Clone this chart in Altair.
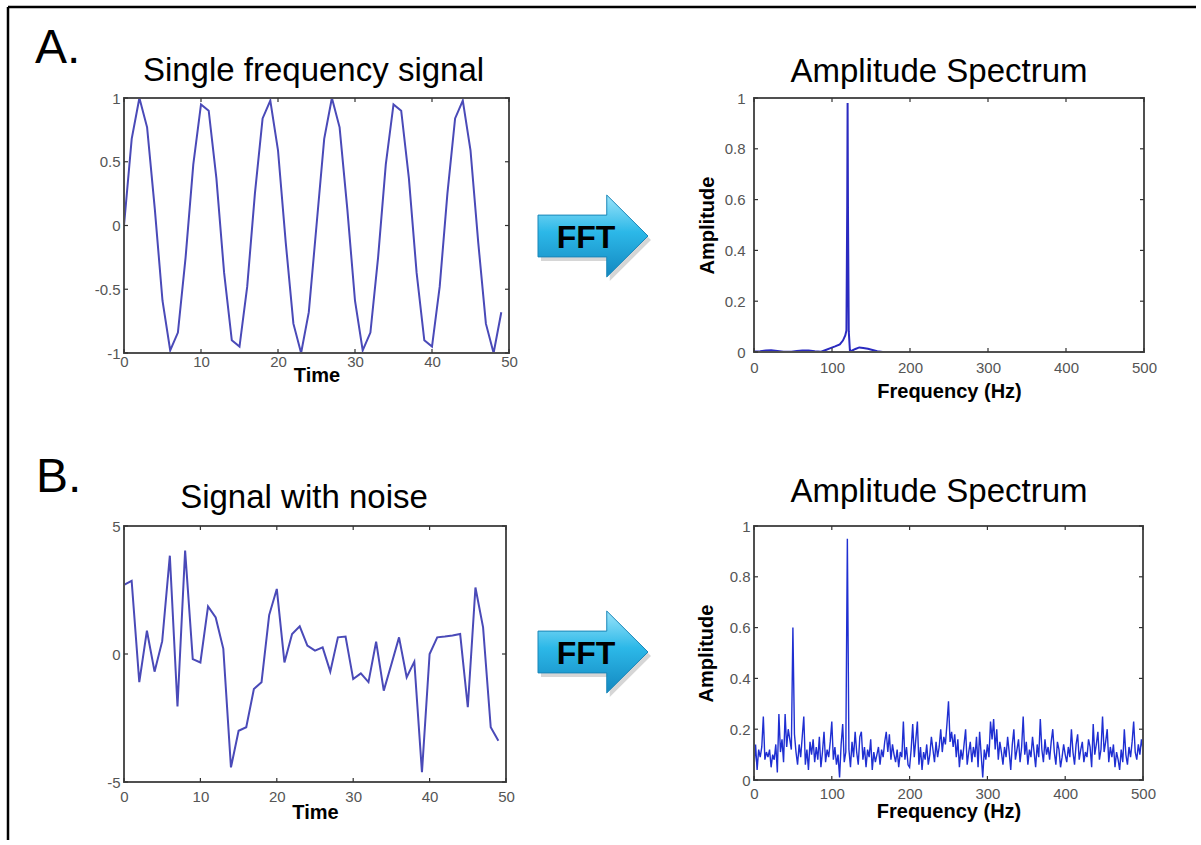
import altair as alt
import pandas as pd

FONT = "Liberation Sans"

# ---------------- data ----------------
time_a = list(range(50))
signal_a = [0.00, 0.68, 1.00, 0.77, 0.13, -0.59, -0.98, -0.84, -0.25, 0.48,
            0.95, 0.90, 0.37, -0.37, -0.90, -0.95, -0.48, 0.25, 0.84, 0.98,
            0.59, -0.13, -0.77, -1.00, -0.68, 0.00, 0.68, 1.00, 0.77, 0.13,
            -0.59, -0.98, -0.84, -0.25, 0.48, 0.95, 0.90, 0.37, -0.37, -0.90,
            -0.95, -0.48, 0.25, 0.84, 0.98, 0.59, -0.13, -0.77, -1.00, -0.68]

time_b = list(range(50))
signal_b = [2.70, 2.86, -1.10, 0.91, -0.69, 0.50, 3.84, -2.05, 4.04, -0.20,
            -0.33, 1.86, 1.43, 0.20, -4.43, -3.00, -2.86, -1.37, -1.10, 1.52,
            2.54, -0.33, 0.78, 1.08, 0.33, 0.13, 0.26, -0.69, 0.65, 0.68,
            -0.98, -0.76, -1.10, 0.48, -1.43, -0.40, 0.65, -0.91, -0.30, -4.62,
            0.00, 0.65, 0.68, 0.72, 0.78, -2.08, 2.60, 1.04, -2.86, -3.39]

spec_a_freq = [0, 8, 15, 22, 30, 38, 48, 55, 62, 70, 78, 86, 92, 98, 104, 110,
               114, 117, 118.5, 119.5, 120, 120.5, 121.5, 123, 126, 130, 135,
               140, 146, 152, 158, 165, 200, 300, 400, 500]
spec_a_amp = [0.002, 0.003, 0.006, 0.007, 0.004, 0.001, 0.001, 0.004, 0.006,
              0.006, 0.003, 0.001, 0.008, 0.015, 0.022, 0.030, 0.045, 0.065,
              0.085, 0.570, 0.980, 0.550, 0.080, 0.004, 0.006, 0.012, 0.018,
              0.016, 0.013, 0.008, 0.003, 0.000, 0.000, 0.000, 0.000, 0.000]

spec_b_freq = list(range(0, 501, 2))
spec_b_amp = [
    0.05, 0.14, 0.04, 0.12, 0.09, 0.13, 0.25, 0.08, 0.11, 0.09,
    0.12, 0.05, 0.10, 0.08, 0.14, 0.03, 0.26, 0.11, 0.16, 0.07,
    0.26, 0.13, 0.20, 0.16, 0.12, 0.60, 0.18, 0.11, 0.06, 0.14,
    0.09, 0.17, 0.25, 0.06, 0.12, 0.04, 0.15, 0.10, 0.16, 0.07,
    0.13, 0.08, 0.17, 0.05, 0.11, 0.19, 0.07, 0.12, 0.09, 0.15,
    0.23, 0.08, 0.13, 0.06, 0.10, 0.01, 0.14, 0.22, 0.07, 0.11,
    0.95, 0.12, 0.05, 0.15, 0.09, 0.19, 0.11, 0.06, 0.17, 0.19,
    0.08, 0.13, 0.05, 0.12, 0.09, 0.16, 0.04, 0.11, 0.07, 0.10,
    0.13, 0.06, 0.12, 0.09, 0.15, 0.19, 0.11, 0.18, 0.08, 0.14,
    0.10, 0.07, 0.12, 0.05, 0.11, 0.09, 0.23, 0.08, 0.13, 0.06,
    0.05, 0.12, 0.22, 0.09, 0.16, 0.23, 0.06, 0.13, 0.04, 0.11,
    0.08, 0.14, 0.06, 0.10, 0.17, 0.12, 0.07, 0.15, 0.09, 0.13,
    0.20, 0.11, 0.17, 0.14, 0.22, 0.31, 0.15, 0.19, 0.13, 0.18,
    0.09, 0.16, 0.05, 0.12, 0.08, 0.14, 0.20, 0.06, 0.11, 0.15,
    0.07, 0.13, 0.09, 0.17, 0.05, 0.19, 0.10, 0.01, 0.12, 0.08,
    0.14, 0.09, 0.23, 0.16, 0.24, 0.12, 0.20, 0.08, 0.15, 0.11,
    0.06, 0.13, 0.09, 0.17, 0.11, 0.04, 0.14, 0.20, 0.08, 0.12,
    0.16, 0.07, 0.13, 0.25, 0.10, 0.15, 0.06, 0.12, 0.09, 0.17,
    0.11, 0.05, 0.14, 0.09, 0.24, 0.12, 0.07, 0.16, 0.10, 0.13,
    0.08, 0.15, 0.20, 0.11, 0.06, 0.15, 0.12, 0.05, 0.09, 0.14,
    0.10, 0.07, 0.13, 0.09, 0.20, 0.11, 0.06, 0.14, 0.18, 0.08,
    0.12, 0.15, 0.07, 0.11, 0.09, 0.16, 0.13, 0.05, 0.22, 0.10,
    0.14, 0.19, 0.08, 0.12, 0.25, 0.11, 0.15, 0.20, 0.07, 0.13,
    0.09, 0.14, 0.05, 0.11, 0.08, 0.04, 0.12, 0.07, 0.20, 0.10,
    0.06, 0.13, 0.09, 0.15, 0.23, 0.11, 0.08, 0.14, 0.10, 0.16,
    0.12]

ticks_time = [0, 10, 20, 30, 40, 50]
ticks_sig_a = [-1, -0.5, 0, 0.5, 1]
ticks_sig_b = [-5, 0, 5]
ticks_freq = [0, 100, 200, 300, 400, 500]
ticks_amp = [0, 0.2, 0.4, 0.6, 0.8, 1]

titles = ["Single frequency signal", "Amplitude Spectrum", "Signal with noise", "Amplitude Spectrum"]

# ---------------- helpers ----------------
ONE = alt.Data(values=[{"k": 0}])
ARROW = "M -1 -0.38 L 0.25 -0.38 L 0.25 -0.745 L 1 0 L 0.25 0.745 L 0.25 0.38 L -1 0.38 Z"
GRAD = alt.LinearGradient(
    gradient="linear",
    stops=[alt.GradientStop(offset=0, color="#9be4fa"),
           alt.GradientStop(offset=0.45, color="#2cb8e8"),
           alt.GradientStop(offset=1, color="#1488c0")],
    x1=0, x2=0, y1=0, y2=1)


def axis(values, title, lp, tp):
    return alt.Axis(values=values, title=title, labelExpr="'' + datum.value",
                    domain=False, ticks=False, grid=False, labelFlush=False,
                    labelOverlap=False, labelPadding=lp, titlePadding=tp,
                    labelFont=FONT, labelFontSize=15, labelColor="#555555",
                    titleFont=FONT, titleFontSize=20, titleFontWeight="bold",
                    titleColor="black")


def txt(s, x, y, size, weight="normal", align="center"):
    return alt.Chart(ONE).mark_text(
        text=s, font=FONT, fontSize=size, fontWeight=weight, align=align,
        baseline="alphabetic", color="black").encode(x=alt.value(x), y=alt.value(y))


def arrow(cx, cy):
    shadow = alt.Chart(ONE).mark_point(
        shape=ARROW, size=12100, filled=True, fill="#777777", opacity=0.3,
        strokeWidth=0).encode(x=alt.value(cx + 3), y=alt.value(cy + 4))
    body = alt.Chart(ONE).mark_point(
        shape=ARROW, size=12100, filled=True, fill=GRAD, stroke="#1a86b8",
        strokeWidth=1, opacity=1).encode(x=alt.value(cx), y=alt.value(cy))
    return [shadow, body, txt("FFT", cx - 7, cy + 11.5, 32, "bold")]


def panel(df, xf, yf, xdom, ydom, xt, yt, w, h, color, sw, xaxis, yaxis, decor):
    xs = alt.Scale(domain=xdom, nice=False, zero=False)
    ys = alt.Scale(domain=ydom, nice=False, zero=False)
    line = alt.Chart(df).mark_line(color=color, strokeWidth=sw).encode(
        x=alt.X(f"{xf}:Q", scale=xs, axis=xaxis),
        y=alt.Y(f"{yf}:Q", scale=ys, axis=yaxis))
    frame = alt.Chart(ONE).mark_rect(
        fillOpacity=0, stroke="#505050", strokeWidth=2).encode(
        x=alt.value(0), x2=alt.value(w), y=alt.value(0), y2=alt.value(h))
    xtd = pd.DataFrame({"xt": xt})
    ytd = pd.DataFrame({"yt": yt})
    tk = dict(color="#333333", strokeWidth=1.2)
    t_top = alt.Chart(xtd).mark_rule(**tk).encode(
        x=alt.X("xt:Q", scale=xs, axis=xaxis), y=alt.value(0), y2=alt.value(4))
    t_bot = alt.Chart(xtd).mark_rule(**tk).encode(
        x=alt.X("xt:Q", scale=xs, axis=xaxis), y=alt.value(h), y2=alt.value(h - 4))
    t_left = alt.Chart(ytd).mark_rule(**tk).encode(
        y=alt.Y("yt:Q", scale=ys, axis=yaxis), x=alt.value(0), x2=alt.value(4))
    t_right = alt.Chart(ytd).mark_rule(**tk).encode(
        y=alt.Y("yt:Q", scale=ys, axis=yaxis), x=alt.value(w), x2=alt.value(w - 4))
    return alt.layer(line, frame, t_top, t_bot, t_left, t_right, *decor).properties(width=w, height=h)


# ---------------- panels ----------------
df_a = pd.DataFrame({"t": time_a, "v": signal_a})
df_b = pd.DataFrame({"t": time_b, "v": signal_b})
df_sa = pd.DataFrame({"f": spec_a_freq, "a": spec_a_amp})
df_sb = pd.DataFrame({"f": spec_b_freq, "a": spec_b_amp})

border = [
    alt.Chart(ONE).mark_rule(color="black", strokeWidth=2.5).encode(
        x=alt.value(-116), x2=alt.value(1072), y=alt.value(-91)),
    alt.Chart(ONE).mark_rule(color="black", strokeWidth=2.5).encode(
        x=alt.value(-116), y=alt.value(-91), y2=alt.value(742)),
]

p_a_left = panel(df_a, "t", "v", [0, 50], [-1, 1], ticks_time, ticks_sig_a, 385, 255,
                 "#4a4ab8", 2.0,
                 axis(ticks_time, "Time", 1, -4), axis(ticks_sig_a, "", 4, 0),
                 border + [txt("A.", -89, -35, 48, align="left"),
                           txt(titles[0], 189.5, -17, 33)] + arrow(469, 138))

p_a_right = panel(df_sa, "f", "a", [0, 500], [0, 1], ticks_freq, ticks_amp, 390, 254,
                  "#2a2ac0", 2.0,
                  axis(ticks_freq, "Frequency (Hz)", 8, 6), axis(ticks_amp, "Amplitude", 9, 7),
                  [txt(titles[1], 185, -16, 33)])

p_b_left = panel(df_b, "t", "v", [0, 50], [-5, 5], ticks_time, ticks_sig_b, 382, 256,
                 "#4a4ab8", 2.0,
                 axis(ticks_time, "Time", 7, -2), axis(ticks_sig_b, "", 4, 0),
                 [txt("B.", -88, -34, 48, align="left"),
                  txt(titles[2], 180, -18, 33)] + arrow(469, 126))

p_b_right = panel(df_sb, "f", "a", [0, 500], [0, 1], ticks_freq, ticks_amp, 389, 254,
                  "#1f2fd2", 1.4,
                  axis(ticks_freq, "Frequency (Hz)", 6, 0), axis(ticks_amp, "Amplitude", 4, 13),
                  [txt(titles[3], 185, -24, 33)])

chart = alt.concat(
    p_a_left, p_a_right, p_b_left, p_b_right,
    columns=2, spacing={"row": 173, "column": 245}, bounds="flush"
).properties(
    padding={"left": 6, "top": 5, "right": 0, "bottom": 0},
    background="white"
).configure_view(strokeWidth=0)

chart.save("out.html", embed_options={"renderer": "svg", "actions": False})
